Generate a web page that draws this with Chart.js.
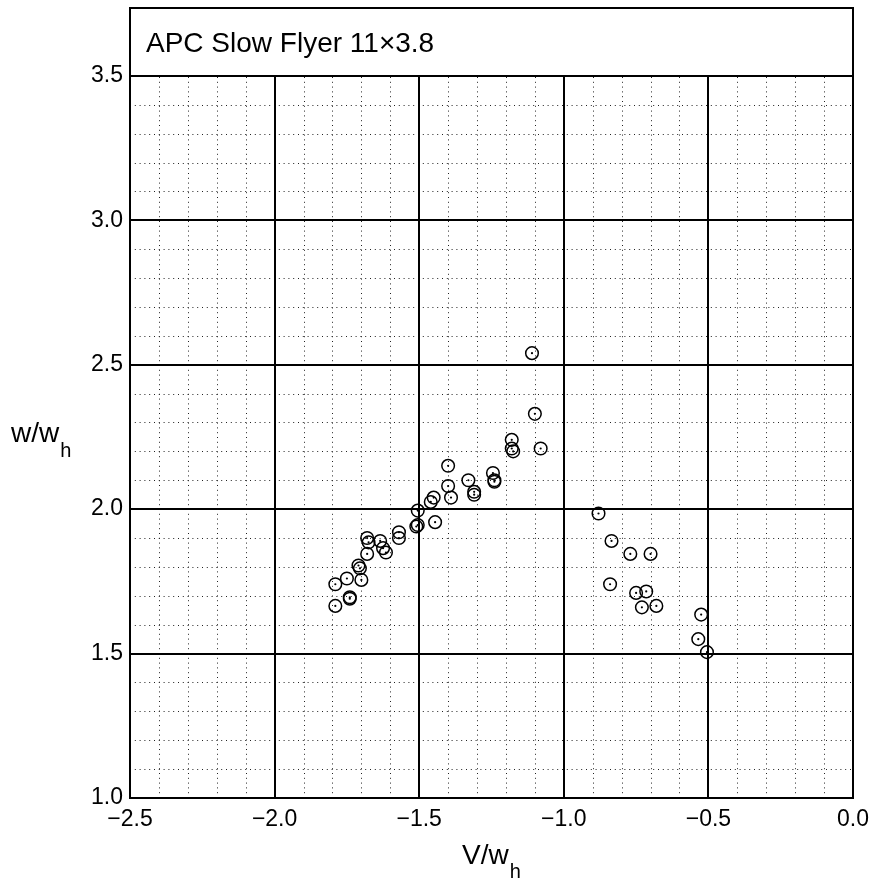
<!DOCTYPE html>
<html>
<head>
<meta charset="utf-8">
<script src="https://cdn.jsdelivr.net/npm/chart.js@4/dist/chart.umd.min.js"></script>
<style>
html, body { margin: 0; padding: 0; background: #fff; }
</style>
</head>
<body>
<canvas id="myChart" width="878" height="880"></canvas>
<script>
// plot title and axis labels
const plotTitle = 'APC Slow Flyer 11\u00d73.8'
const xTitle = ['V/w', 'h']
const yTitle = ['w/w', 'h']

// tick labels
const xTicks = [-2.5, -2.0, -1.5, -1.0, -0.5, 0.0]
const yTicks = [1.0, 1.5, 2.0, 2.5, 3.0, 3.5]

// measured points, V/w_h and w/w_h
const vx = [-1.11, -1.10, -1.18, -1.18, -1.175, -1.08, -1.40, -1.40, -1.39, -1.33,
            -1.31, -1.31, -1.245, -1.24, -1.24, -1.45, -1.46, -1.505, -1.445, -1.51,
            -1.505, -1.57, -1.57, -1.68, -1.675, -1.635, -1.625, -1.615, -1.68, -1.71,
            -1.705, -1.75, -1.70, -1.79, -1.74, -1.74, -1.79, -0.88, -0.835, -0.77,
            -0.70, -0.84, -0.75, -0.715, -0.73, -0.68, -0.525, -0.535, -0.505]
const wy = [2.54, 2.33, 2.24, 2.21, 2.20, 2.21, 2.15, 2.08, 2.04, 2.10,
            2.06, 2.05, 2.125, 2.10, 2.095, 2.04, 2.025, 1.995, 1.955, 1.94,
            1.945, 1.92, 1.90, 1.90, 1.885, 1.89, 1.865, 1.85, 1.845, 1.805,
            1.795, 1.76, 1.755, 1.74, 1.695, 1.69, 1.665, 1.985, 1.89, 1.845,
            1.845, 1.74, 1.71, 1.715, 1.66, 1.665, 1.635, 1.55, 1.505]

const points = vx.map((v, i) => ({x: v, y: wy[i]}))
const fontName = '"Liberation Sans", Arial, Helvetica, sans-serif'

function fmt(v) {
    const s = Math.abs(v).toFixed(1)
    return v < -1e-9 ? '\u2212' + s : s
}

// no extra padding from tick labels
function noPad(s) {
    s.paddingTop = 0
    s.paddingBottom = 0
    s.paddingLeft = 0
    s.paddingRight = 0
}

// grid, frame, title box and axis titles
const decor = {
    id: 'decor',
    beforeDatasetsDraw(chart) {
        const ctx = chart.ctx
        const a = chart.chartArea
        const xs = chart.scales.x
        const ys = chart.scales.y
        const topY = ys.getPixelForValue(3.5)
        ctx.save()
        // minor dotted grid
        ctx.strokeStyle = '#222'
        ctx.lineWidth = 1
        ctx.setLineDash([1, 3.8])
        for (let i = 1; i < 25; i++) {
            if (i % 5 === 0) continue
            const px = Math.round(xs.getPixelForValue(-2.5 + i * 0.1)) + 0.5
            ctx.beginPath(); ctx.moveTo(px, a.bottom); ctx.lineTo(px, topY); ctx.stroke()
            const py = Math.round(ys.getPixelForValue(1.0 + i * 0.1)) + 0.5
            ctx.beginPath(); ctx.moveTo(a.left, py); ctx.lineTo(a.right, py); ctx.stroke()
        }
        // major solid grid
        ctx.setLineDash([])
        ctx.strokeStyle = '#000'
        ctx.lineWidth = 2
        xTicks.forEach(v => {
            const px = Math.round(xs.getPixelForValue(v))
            ctx.beginPath(); ctx.moveTo(px, a.bottom); ctx.lineTo(px, topY); ctx.stroke()
        })
        yTicks.forEach(v => {
            const py = Math.round(ys.getPixelForValue(v))
            ctx.beginPath(); ctx.moveTo(a.left, py); ctx.lineTo(a.right, py); ctx.stroke()
        })
        ctx.strokeRect(a.left, a.top, a.right - a.left, a.bottom - a.top)
        ctx.restore()
    },
    afterDraw(chart) {
        const ctx = chart.ctx
        const a = chart.chartArea
        ctx.save()
        ctx.fillStyle = '#000'
        ctx.textBaseline = 'alphabetic'
        ctx.textAlign = 'left'
        ctx.font = '28px ' + fontName
        ctx.fillText(plotTitle, a.left + 16, a.top + 44)

        // x axis title
        ctx.font = '28px ' + fontName
        let w = ctx.measureText(xTitle[0]).width
        ctx.fillText(xTitle[0], 462, 864)
        ctx.font = '20px ' + fontName
        ctx.fillText(xTitle[1], 462 + w + 1, 878)

        // y axis title
        ctx.font = '28px ' + fontName
        w = ctx.measureText(yTitle[0]).width
        ctx.fillText(yTitle[0], 11, 442)
        ctx.font = '20px ' + fontName
        ctx.fillText(yTitle[1], 11 + w + 1, 457)
        ctx.restore()
    }
}

const myChart = new Chart(document.getElementById('myChart').getContext('2d'), {
    type: 'scatter',
    data: {
        datasets: [
            {
                label: 'rings',
                data: points,
                pointStyle: 'circle',
                pointRadius: 6.3,
                borderWidth: 1.5,
                borderColor: '#000',
                backgroundColor: 'rgba(0,0,0,0)'
            },
            {
                label: 'dots',
                data: points,
                pointStyle: 'circle',
                pointRadius: 1.1,
                borderWidth: 0,
                backgroundColor: '#000'
            }
        ]
    },
    options: {
        responsive: false,
        animation: false,
        layout: { padding: { top: 8, right: 25, left: 0, bottom: 0 } },
        plugins: { legend: { display: false }, tooltip: { enabled: false } },
        scales: {
            x: {
                type: 'linear',
                min: -2.5,
                max: 0,
                grid: { display: false, drawTicks: false },
                border: { display: false },
                afterBuildTicks: s => { s.ticks = xTicks.map(v => ({value: v})) },
                afterFit: s => { s.height = 82; noPad(s) },
                ticks: {
                    padding: 8,
                    color: '#000',
                    maxRotation: 0,
                    font: { family: fontName, size: 23 },
                    callback: v => fmt(v)
                }
            },
            y: {
                type: 'linear',
                min: 1.0,
                max: 3.735,
                grid: { display: false, drawTicks: false },
                border: { display: false },
                afterBuildTicks: s => { s.ticks = yTicks.map(v => ({value: v})) },
                afterFit: s => { s.width = 130; noPad(s) },
                ticks: {
                    padding: 7,
                    color: '#000',
                    font: { family: fontName, size: 23 },
                    callback: v => v.toFixed(1)
                }
            }
        }
    },
    plugins: [decor]
})
</script>
</body>
</html>
